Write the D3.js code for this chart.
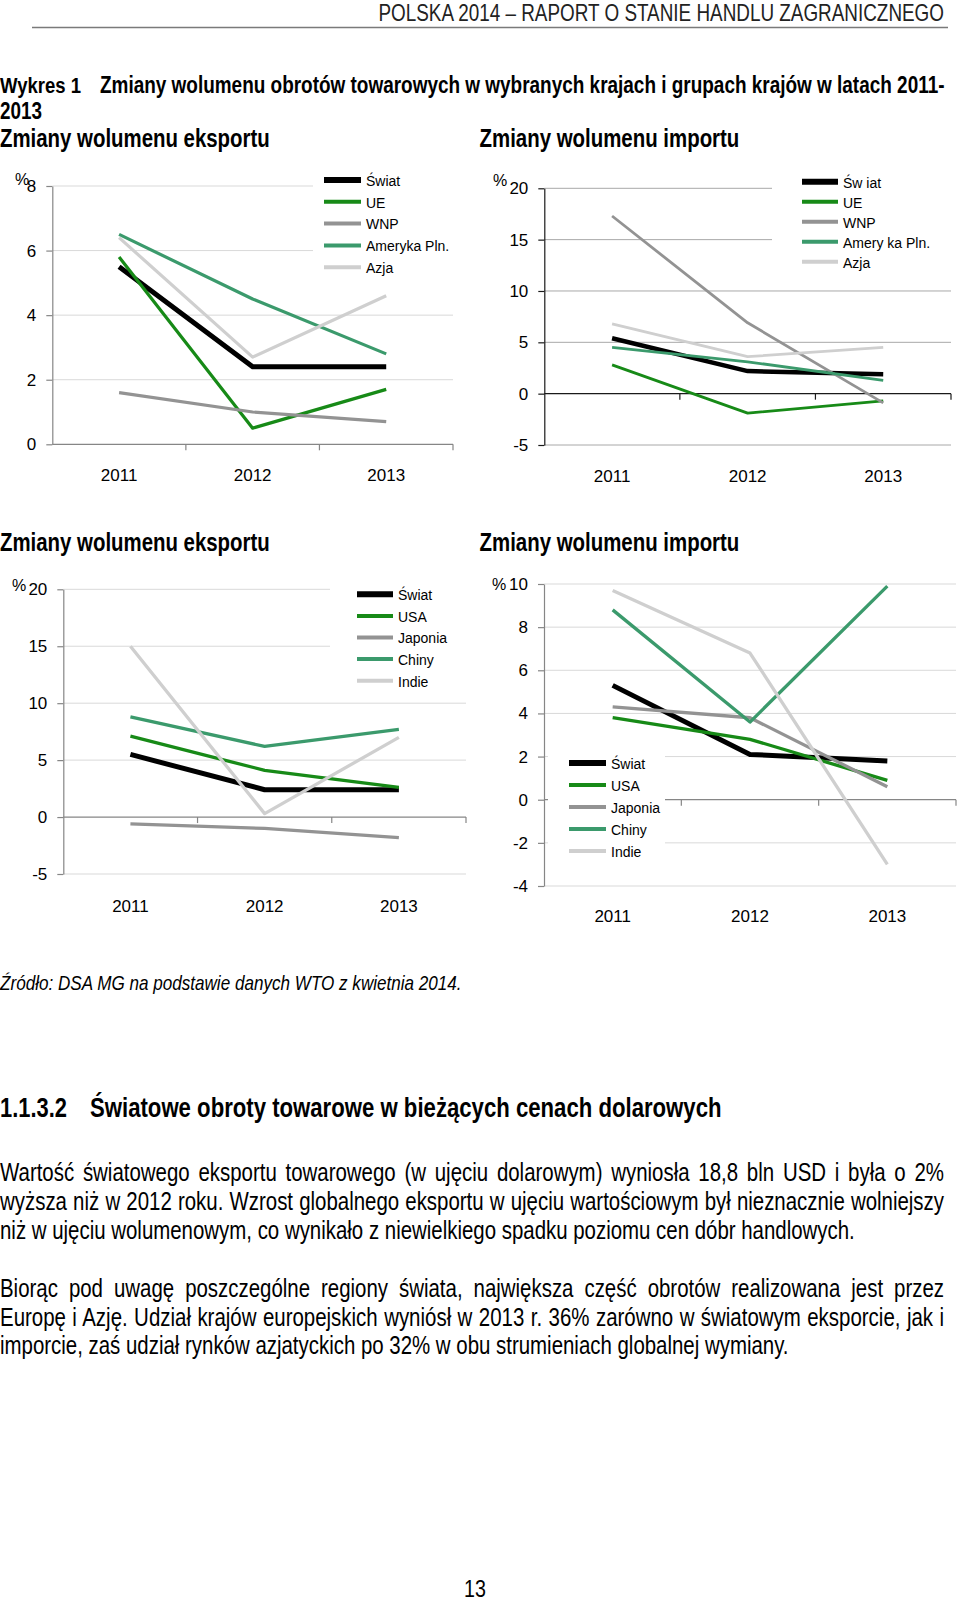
<!DOCTYPE html>
<html><head><meta charset="utf-8">
<script src="https://cdn.jsdelivr.net/npm/d3@7"></script>
<style>body{margin:0;background:#fff} svg{display:block}</style>
</head><body>
<script>
// ---------- DATA ----------
const years = ["2011", "2012", "2013"];

const exp1Series = ["Świat", "UE", "WNP", "Ameryka Pln.", "Azja"];
const exp1Values = [[5.5, 2.4, 2.4], [5.8, 0.5, 1.7], [1.6, 1.0, 0.7], [6.5, 4.5, 2.8], [6.4, 2.7, 4.6]];
const exp1Ticks = [0, 2, 4, 6, 8];

const imp1Series = ["Św iat", "UE", "WNP", "Amery ka Pln.", "Azja"];
const imp1Values = [[5.4, 2.2, 1.9], [2.8, -1.9, -0.7], [17.3, 6.9, -0.9], [4.5, 3.1, 1.3], [6.8, 3.6, 4.5]];
const imp1Ticks = [-5, 0, 5, 10, 15, 20];

const exp2Series = ["Świat", "USA", "Japonia", "Chiny", "Indie"];
const exp2Values = [[5.5, 2.4, 2.4], [7.1, 4.1, 2.6], [-0.6, -1.0, -1.8], [8.8, 6.2, 7.7], [15.0, 0.3, 7.0]];
const exp2Ticks = [-5, 0, 5, 10, 15, 20];

const imp2Series = ["Świat", "USA", "Japonia", "Chiny", "Indie"];
const imp2Values = [[5.3, 2.1, 1.8], [3.8, 2.8, 0.9], [4.3, 3.8, 0.6], [8.8, 3.6, 9.9], [9.7, 6.8, -3.0]];
const imp2Ticks = [-4, -2, 0, 2, 4, 6, 8, 10];

const seriesColors = ["#000000", "#178a17", "#939393", "#3b9a6c", "#cfcfcf"];

const headerText = "POLSKA 2014 – RAPORT O STANIE HANDLU ZAGRANICZNEGO";
const titleLabel = "Wykres 1";
const titleText = "Zmiany wolumenu obrotów towarowych w wybranych krajach i grupach krajów w latach 2011-";
const titleText2 = "2013";
const expTitle = "Zmiany wolumenu eksportu";
const impTitle = "Zmiany wolumenu importu";
const sourceText = "Źródło: DSA MG na podstawie danych WTO z kwietnia 2014.";
const headingNum = "1.1.3.2";
const headingText = "Światowe obroty towarowe w bieżących cenach dolarowych";
const para1 = [
  "Wartość światowego eksportu towarowego (w ujęciu dolarowym) wyniosła 18,8 bln USD i była o 2%",
  "wyższa niż w 2012 roku. Wzrost globalnego eksportu w ujęciu wartościowym był nieznacznie wolniejszy",
  "niż w ujęciu wolumenowym, co wynikało z niewielkiego spadku poziomu cen dóbr handlowych."
];
const para2 = [
  "Biorąc pod uwagę poszczególne regiony świata, największa część obrotów realizowana jest przez",
  "Europę i Azję. Udział krajów europejskich wyniósł w 2013 r. 36% zarówno w światowym eksporcie, jak i",
  "imporcie, zaś udział rynków azjatyckich po 32% w obu strumieniach globalnej wymiany."
];
const pageNumber = "13";

// ---------- FONTS ----------
const cv = document.createElement('canvas').getContext('2d');
function mw(txt, font) { cv.font = font; return cv.measureText(txt).width; }
const probe = 'abcdefghijklmnopqrstuvwxyz ABCDEFGHIJ 0123';
const hasNarrow = mw(probe, "40px 'Liberation Sans Narrow', monospace") !== mw(probe, "40px monospace");
const NF = hasNarrow ? "'Liberation Sans Narrow'" : "'Liberation Sans'";
const K = hasNarrow ? 1 : 0.82;
const AF = "'Liberation Sans', Arial, sans-serif";

const W = 960, H = 1600;
const svg = d3.select('body').append('svg').attr('width', W).attr('height', H);

function fnt(size, o) { return `${o.style || 'normal'} ${o.weight || 'normal'} ${size}px ${NF}`; }
// draws narrow text; when a target width is given the font size is fitted to it
function ntext(str, x, y, size, o = {}) {
  if (o.width) size = 100 * o.width / (mw(str, fnt(100, o)) * K);
  const nat = mw(str, fnt(size, o)) * K;
  const t = svg.append('text').attr('x', x).attr('y', y)
    .attr('font-family', NF).attr('font-size', size.toFixed(2))
    .attr('font-weight', o.weight || 'normal').attr('font-style', o.style || 'normal')
    .attr('fill', o.fill || '#000')
    .text(str);
  if (K !== 1) t.attr('textLength', nat).attr('lengthAdjust', 'spacingAndGlyphs');
  if (o.anchor) t.attr('text-anchor', o.anchor);
  return t;
}
function justify(str, x0, x1, y, size, last) {
  const font = `${size}px ${NF}`;
  const nat = mw(str, font) * K;
  const nsp = str.split(' ').length - 1;
  const t = svg.append('text').attr('x', x0).attr('y', y)
    .attr('font-family', NF).attr('font-size', size.toFixed(2)).attr('fill', '#000')
    .text(str);
  if (!last) {
    const extra = (x1 - x0 - nat) / nsp;
    t.attr('word-spacing', (extra / K).toFixed(3));
    if (K !== 1) t.attr('textLength', x1 - x0).attr('lengthAdjust', 'spacingAndGlyphs');
  } else if (K !== 1) {
    t.attr('textLength', nat).attr('lengthAdjust', 'spacingAndGlyphs');
  }
}

// ---------- PAGE TEXT ----------
ntext(headerText, 944, 21, 23, { anchor: 'end', width: 566, fill: '#222' });
svg.append('line').attr('x1', 32).attr('x2', 948).attr('y1', 27.5).attr('y2', 27.5)
  .attr('stroke', '#7a7a7a').attr('stroke-width', 1.3);

ntext(titleLabel, 0, 93, 23, { weight: 'bold', width: 81 });
ntext(titleText, 100, 93, 23, { weight: 'bold', width: 845 });
ntext(titleText2, 0, 119, 23, { weight: 'bold', width: 42 });
ntext(expTitle, 0, 147, 25, { weight: 'bold', width: 270 });
ntext(impTitle, 479.5, 147, 25, { weight: 'bold', width: 260 });
ntext(expTitle, 0, 551, 25, { weight: 'bold', width: 270 });
ntext(impTitle, 479.5, 551, 25, { weight: 'bold', width: 260 });

ntext(sourceText, 0, 990, 21, { style: 'italic', width: 462 });
ntext(headingNum, 0, 1117, 27, { weight: 'bold', width: 67 });
ntext(headingText, 90, 1117, 27, { weight: 'bold', width: 632 });

const pfs = 100 * 855 / (mw(para1[2], `100px ${NF}`) * K);
[1181, 1210, 1238.5].forEach((y, i) => justify(para1[i], 0, 944, y, pfs, i === 2));
[1297, 1325.5, 1354].forEach((y, i) => justify(para2[i], 0, 944, y, pfs, i === 2));
ntext(pageNumber, 475, 1597, 24, { anchor: 'middle' });

// ---------- CHARTS ----------
function chart(c) {
  const g = svg.append('g');
  const x = d3.scaleBand().domain(years).range([c.x0, c.x1]);
  const y = d3.scaleLinear().domain(c.domain).range([c.yBot, c.yTop]);

  // gridlines
  g.append('g').selectAll('line').data(c.ticks.filter(t => t !== 0)).join('line')
    .attr('x1', c.x0).attr('x2', c.x1).attr('y1', d => y(d)).attr('y2', d => y(d))
    .attr('stroke', c.gridColor).attr('stroke-width', 1);

  // y axis
  const ya = g.append('g').attr('transform', `translate(${c.x0},0)`)
    .call(d3.axisLeft(y).tickValues(c.ticks).tickSize(6).tickSizeOuter(0).tickPadding(10)
      .tickFormat(d => String(d)));
  ya.select('.domain').attr('stroke', c.axisColor).attr('stroke-width', 1.2);
  ya.selectAll('.tick line').attr('stroke', c.axisColor).attr('stroke-width', 1.2);
  ya.selectAll('text').attr('font-family', AF).attr('font-size', 17).attr('fill', '#000');

  // x axis line at zero with boundary ticks
  const y0 = y(0);
  g.append('line').attr('x1', c.x0).attr('x2', c.x1).attr('y1', y0).attr('y2', y0)
    .attr('stroke', c.axisColor).attr('stroke-width', 1.2);
  g.append('g').selectAll('line').data(years).join('line')
    .attr('x1', d => x(d) + x.bandwidth()).attr('x2', d => x(d) + x.bandwidth())
    .attr('y1', y0).attr('y2', y0 + 6).attr('stroke', c.axisColor).attr('stroke-width', 1.2);

  // x labels
  const xa = g.append('g').attr('transform', `translate(0,${c.labelY})`)
    .call(d3.axisBottom(x).tickSize(0).tickPadding(0));
  xa.select('.domain').remove();
  xa.selectAll('text').attr('y', 0).attr('dy', 0)
    .attr('font-family', AF).attr('font-size', 17).attr('fill', '#000');

  // percent sign
  g.append('text').attr('x', c.pct.x).attr('y', c.pct.y).attr('font-family', AF)
    .attr('font-size', 16).attr('fill', '#000').text('%');

  // legend background
  const L = c.legend;
  g.append('rect').attr('x', L.bx0).attr('y', L.by0).attr('width', L.bx1 - L.bx0)
    .attr('height', L.by1 - L.by0).attr('fill', '#fff');

  // series lines
  const line = d3.line().x((d, i) => x(years[i]) + x.bandwidth() / 2).y(d => y(d));
  g.append('g').selectAll('path').data(c.values).join('path')
    .attr('d', d => line(d)).attr('fill', 'none')
    .attr('stroke', (d, i) => seriesColors[i])
    .attr('stroke-width', (d, i) => i === 0 ? c.wMain : c.wOther)
    .attr('stroke-linejoin', 'round');

  // legend items
  const li = g.append('g').selectAll('g').data(c.names).join('g')
    .attr('transform', (d, i) => `translate(0,${L.y0 + i * L.step})`);
  li.append('line').attr('x1', L.lx0).attr('x2', L.lx1)
    .attr('stroke', (d, i) => seriesColors[i]).attr('stroke-width', (d, i) => i === 0 ? 6 : 4);
  li.append('text').attr('x', L.tx).attr('dy', '0.42em').attr('font-family', AF)
    .attr('font-size', 14).attr('fill', '#000').text(d => d);
}

chart({
  x0: 52.3, x1: 453, yTop: 186, yBot: 444.3, domain: [0, 8], ticks: exp1Ticks,
  gridColor: '#d9d9d9', axisColor: '#868686', labelY: 481, pct: { x: 15, y: 185 },
  legend: { bx0: 313, bx1: 458, by0: 166, by1: 279, lx0: 324, lx1: 361, tx: 366, y0: 180, step: 21.8 },
  names: exp1Series, values: exp1Values, wMain: 5, wOther: 3.2
});
chart({
  x0: 544.3, x1: 951, yTop: 188.3, yBot: 445, domain: [-5, 20], ticks: imp1Ticks,
  gridColor: '#a8a8a8', axisColor: '#1a1a1a', labelY: 482, pct: { x: 493, y: 186 },
  legend: { bx0: 772, bx1: 958, by0: 166, by1: 272, lx0: 802, lx1: 838, tx: 843, y0: 181.7, step: 20 },
  names: imp1Series, values: imp1Values, wMain: 4.5, wOther: 2.8
});
chart({
  x0: 63.3, x1: 466, yTop: 589.3, yBot: 874, domain: [-5, 20], ticks: exp2Ticks,
  gridColor: '#d9d9d9', axisColor: '#868686', labelY: 912, pct: { x: 12, y: 591 },
  legend: { bx0: 330, bx1: 470, by0: 578, by1: 692, lx0: 357, lx1: 393, tx: 398, y0: 594.3, step: 21.6 },
  names: exp2Series, values: exp2Values, wMain: 5, wOther: 3.3
});
chart({
  x0: 544, x1: 956, yTop: 584, yBot: 886, domain: [-4, 10], ticks: imp2Ticks,
  gridColor: '#d9d9d9', axisColor: '#868686', labelY: 922, pct: { x: 492, y: 590 },
  legend: { bx0: 548, bx1: 665, by0: 748, by1: 862, lx0: 569, lx1: 606, tx: 611, y0: 763, step: 22 },
  names: imp2Series, values: imp2Values, wMain: 5, wOther: 3.3
});
</script>
</body></html>
